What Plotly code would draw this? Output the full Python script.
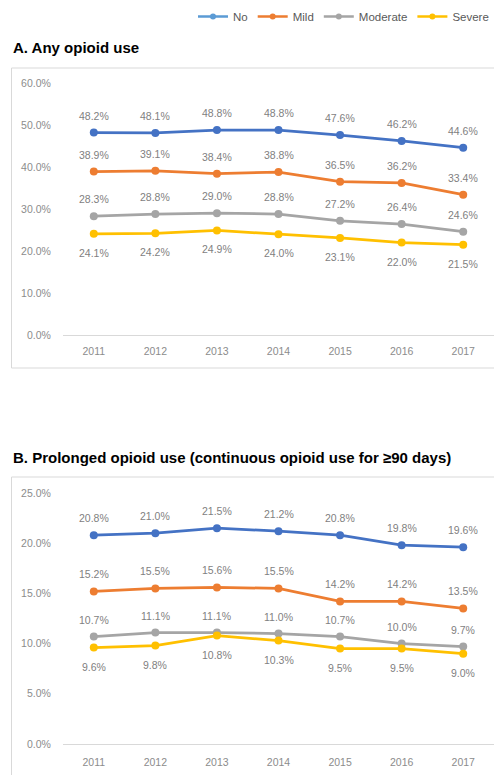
import plotly.graph_objects as go

years = [2011, 2012, 2013, 2014, 2015, 2016, 2017]
series_names = ["No", "Mild", "Moderate", "Severe"]

any_no = [48.2, 48.1, 48.8, 48.8, 47.6, 46.2, 44.6]
any_mild = [38.9, 39.1, 38.4, 38.8, 36.5, 36.2, 33.4]
any_moderate = [28.3, 28.8, 29.0, 28.8, 27.2, 26.4, 24.6]
any_severe = [24.1, 24.2, 24.9, 24.0, 23.1, 22.0, 21.5]

pro_no = [20.8, 21.0, 21.5, 21.2, 20.8, 19.8, 19.6]
pro_mild = [15.2, 15.5, 15.6, 15.5, 14.2, 14.2, 13.5]
pro_moderate = [10.7, 11.1, 11.1, 11.0, 10.7, 10.0, 9.7]
pro_severe = [9.6, 9.8, 10.8, 10.3, 9.5, 9.5, 9.0]

line_colors = ["#4472C4", "#ED7D31", "#A5A5A5", "#FFC000"]
legend_colors = ["#5B9BD5", "#ED7D31", "#A5A5A5", "#FFC000"]
label_below = [False, False, False, True]

W, H = 494, 775
def py(px):
    return 1 - px / H

fig = go.Figure()

panels = [
    ("x", "y", [any_no, any_mild, any_moderate, any_severe]),
    ("x2", "y2", [pro_no, pro_mild, pro_moderate, pro_severe]),
]

for xa, ya, data in panels:
    for i, vals in enumerate(data):
        fig.add_trace(go.Scatter(
            x=years, y=vals, xaxis=xa, yaxis=ya, mode="lines+markers",
            line=dict(color=line_colors[i], width=2.75),
            marker=dict(color=line_colors[i], size=8),
            showlegend=False, hoverinfo="skip",
        ))
        for xv, yv in zip(years, vals):
            fig.add_annotation(
                x=xv, y=yv, xref=xa, yref=ya, text=f"{yv:.1f}%",
                showarrow=False, yshift=-19 if label_below[i] else 17,
                font=dict(family="Liberation Sans, Arial", size=10.5, color="#7F7F7F"),
            )

# legend entries
for i, name in enumerate(series_names):
    fig.add_trace(go.Scatter(
        x=[None], y=[None], mode="lines+markers", name=name,
        line=dict(color=legend_colors[i], width=2.5),
        marker=dict(color=legend_colors[i], size=6),
    ))

axis_font = dict(family="Liberation Sans, Arial", size=10.5, color="#8C8C8C")

xcommon = dict(
    range=[2010.5, 2017.5], tickvals=years, ticktext=[str(y) for y in years],
    showgrid=False, zeroline=False, showline=True, linecolor="#D9D9D9", linewidth=1,
    ticks="outside", tickcolor="rgba(0,0,0,0)", tickfont=axis_font,
    fixedrange=True, automargin=False,
)
ycommon = dict(showgrid=False, zeroline=False, showline=False, automargin=False,
               ticks="outside", ticklen=9, tickcolor="rgba(0,0,0,0)", tickfont=axis_font)
fig.update_layout(
    xaxis=dict(domain=[63 / W, 1], anchor="y", ticklen=6, **xcommon),
    xaxis2=dict(domain=[63 / W, 1], anchor="y2", ticklen=8, **xcommon),
    yaxis=dict(domain=[py(335), py(83)], range=[0, 60], tickvals=[0, 10, 20, 30, 40, 50, 60],
               ticktext=[f"{v:.1f}%" for v in [0, 10, 20, 30, 40, 50, 60]],
               anchor="x", **ycommon),
    yaxis2=dict(domain=[py(744), py(493)], range=[0, 25], tickvals=[0, 5, 10, 15, 20, 25],
                ticktext=[f"{v:.1f}%" for v in [0, 5, 10, 15, 20, 25]],
                anchor="x2", **ycommon),
    width=W, height=H, margin=dict(l=0, r=0, t=0, b=0, autoexpand=False),
    paper_bgcolor="white", plot_bgcolor="white",
    showlegend=True,
    legend=dict(orientation="h", x=1.0, xanchor="right", y=py(2), yanchor="top",
                font=dict(family="Liberation Sans, Arial", size=11.5, color="#595959"),
                bgcolor="rgba(0,0,0,0)", itemwidth=30, tracegroupgap=0),
)

# panel borders
fig.add_shape(type="rect", xref="paper", yref="paper", x0=11.5 / W, x1=1.01,
              y0=py(368), y1=py(68), line=dict(color="#D9D9D9", width=1), layer="below")
fig.add_shape(type="rect", xref="paper", yref="paper", x0=11.5 / W, x1=1.01,
              y0=-0.02, y1=py(477), line=dict(color="#D9D9D9", width=1), layer="below")

title_font = dict(family="Liberation Sans, Arial", size=15, color="#000000")
fig.add_annotation(xref="paper", yref="paper", x=11 / W, y=py(47), xanchor="left", yanchor="middle",
                   text="<b>A. Any opioid use</b>", showarrow=False, font=title_font)
fig.add_annotation(xref="paper", yref="paper", x=11 / W, y=py(457), xanchor="left", yanchor="middle",
                   text="<b>B. Prolonged opioid use (continuous opioid use for ≥90 days)</b>",
                   showarrow=False, font=title_font)

fig.write_html("out.html")
